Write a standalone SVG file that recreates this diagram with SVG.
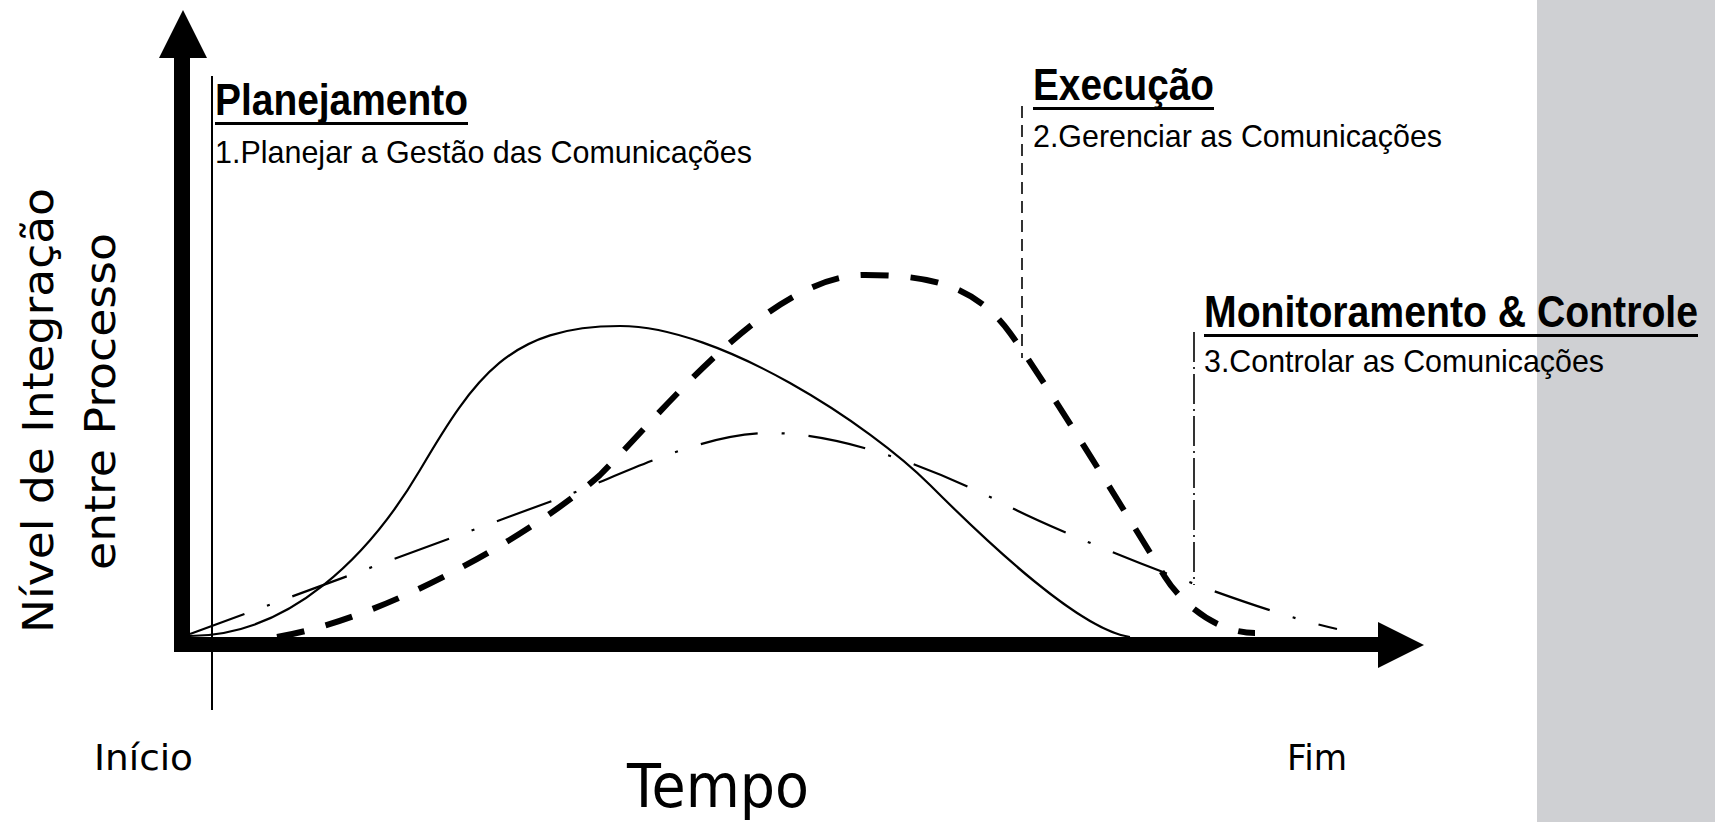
<svg xmlns="http://www.w3.org/2000/svg" width="1715" height="822" viewBox="0 0 1715 822">
  <style>
    .head { font-family: "Liberation Sans", Arial, sans-serif; font-weight: bold; font-size: 45px; fill: #000; }
    .sub { font-family: "Liberation Sans", Arial, sans-serif; font-size: 32px; fill: #000; }
    .hand { font-family: "DejaVu Sans", "Noto Sans", sans-serif; fill: #000; }
    .curve { fill: none; stroke: #000; stroke-linecap: butt; stroke-linejoin: round; }
  </style>
  <rect x="0" y="0" width="1715" height="822" fill="#ffffff"/>
  <rect id="side-panel" x="1537" y="0" width="178" height="822" fill="#cfd0d3"/>

  <g id="axes" fill="#000">
    <rect x="174" y="55" width="16" height="597"/>
    <polygon points="183,10 207,58 159,58"/>
    <rect x="174" y="637" width="1206" height="15"/>
    <polygon points="1378,622 1424,645 1378,668"/>
  </g>

  <g id="axis-labels">
    <text class="hand" font-size="43" transform="translate(53,633) rotate(-90)" textLength="445" lengthAdjust="spacingAndGlyphs">Nível de Integração</text>
    <text class="hand" font-size="43" transform="translate(115,570) rotate(-90)" textLength="337" lengthAdjust="spacingAndGlyphs">entre Processo</text>
    <text class="hand" x="94" y="770" font-size="36" textLength="99" lengthAdjust="spacingAndGlyphs">Início</text>
    <text class="hand" x="1287" y="770" font-size="36" textLength="60" lengthAdjust="spacingAndGlyphs">Fim</text>
    <text class="hand" x="627" y="807" font-size="60" textLength="182" lengthAdjust="spacingAndGlyphs">Tempo</text>
  </g>

  <g id="planejamento">
    <line x1="212" y1="76" x2="212" y2="710" stroke="#000" stroke-width="2"/>
    <text class="head" transform="translate(215,115) scale(0.87,1)" textLength="290.8" lengthAdjust="spacingAndGlyphs">Planejamento</text>
    <rect x="215" y="122" width="253" height="3" fill="#000"/>
    <text class="sub" x="215" y="163" textLength="537" lengthAdjust="spacingAndGlyphs">1.Planejar a Gestão das Comunicações</text>
  </g>

  <g id="execucao">
    <line x1="1022" y1="106" x2="1022" y2="358" stroke="#000" stroke-width="1.6" stroke-dasharray="12 7"/>
    <text class="head" transform="translate(1033,100) scale(0.87,1)" textLength="208" lengthAdjust="spacingAndGlyphs">Execução</text>
    <rect x="1033" y="107" width="181" height="3" fill="#000"/>
    <text class="sub" x="1033" y="147" textLength="409" lengthAdjust="spacingAndGlyphs">2.Gerenciar as Comunicações</text>
  </g>

  <g id="monitoramento">
    <line x1="1194" y1="332" x2="1194" y2="585" stroke="#000" stroke-width="1.6" stroke-dasharray="30 5 2 5"/>
    <text class="head" transform="translate(1204,327) scale(0.87,1)" textLength="567.8" lengthAdjust="spacingAndGlyphs">Monitoramento &amp; Controle</text>
    <rect x="1204" y="334" width="494" height="3" fill="#000"/>
    <text class="sub" x="1204" y="372" textLength="400" lengthAdjust="spacingAndGlyphs">3.Controlar as Comunicações</text>
  </g>

  <g id="connectors">
    <path id="curve-planejamento" class="curve" stroke-width="2.2"
      d="M190,636 C290,636 370,555 420,470 C475,376.5 510,326 620,326 C720,326 870,425 930,485 C990,545 1080,630 1130,637"/>
    <path id="curve-execucao" class="curve" stroke-width="6" stroke-dasharray="28 22"
      d="M277,637 C390,618 540,529 600,475 C665,410 770,275 865,275 C930,275 975,285 1010,333 C1045,381 1130,520 1165,577 C1180,601 1215,633 1255,633"/>
    <path id="curve-monitoramento" class="curve" stroke-width="2.2" stroke-dasharray="58 24 3 24"
      d="M190,634 L560,498 C620,476 700,433 770,433 C850,433 950,476 1012,508 C1072,538 1250,610 1337,629"/>
  </g>
</svg>
